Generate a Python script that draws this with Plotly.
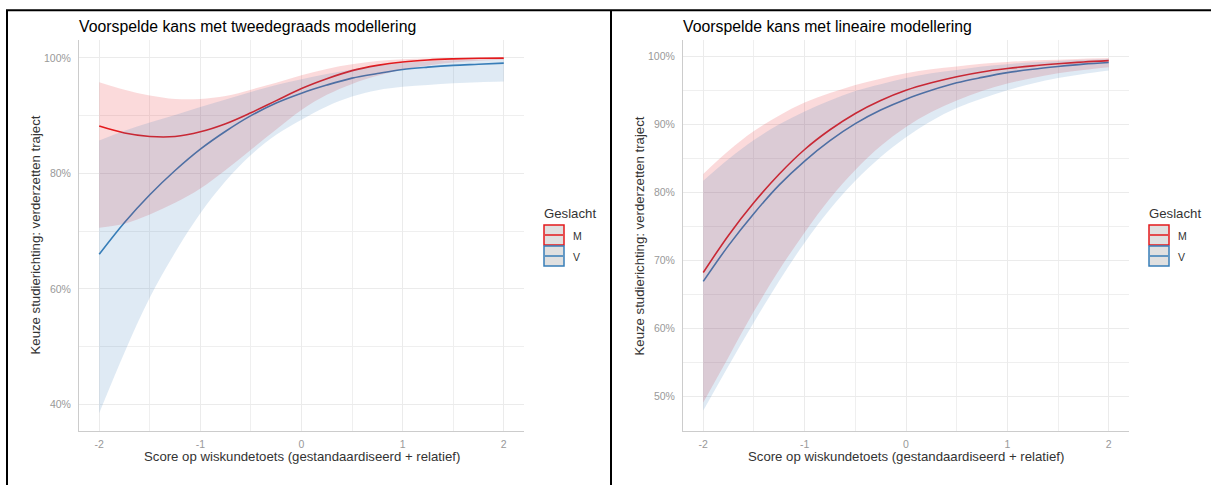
import plotly.graph_objects as go

# Standardised maths test score (x axis)
score = [-2.0, -1.75, -1.5, -1.25, -1.0, -0.75, -0.5, -0.25, 0.0,
         0.25, 0.5, 0.75, 1.0, 1.25, 1.5, 1.75, 2.0]

# Quadratic (tweedegraads) model: predicted % continuing, with 95% band
quad_m_fit = [88.2, 87.0, 86.4, 86.4, 87.2, 88.6, 90.5, 92.6, 94.7,
              96.4, 97.8, 98.7, 99.3, 99.65, 99.83, 99.93, 99.97]
quad_m_lo = [70.6, 71.3, 72.9, 74.9, 77.4, 80.6, 84.1, 87.6, 91.0,
             93.6, 95.5, 96.9, 98.0, 98.7, 99.2, 99.5, 99.74]
quad_m_hi = [95.8, 94.5, 93.5, 92.9, 92.9, 93.4, 94.5, 95.7, 97.0,
             98.1, 98.9, 99.46, 99.76, 99.9, 99.96, 99.99, 100.0]
quad_v_fit = [66.0, 71.5, 76.3, 80.5, 84.2, 87.3, 90.0, 92.2, 93.9,
              95.3, 96.5, 97.3, 98.0, 98.4, 98.7, 98.9, 99.1]
quad_v_lo = [38.5, 49.0, 58.5, 66.3, 73.1, 78.7, 83.2, 86.7, 89.3,
             91.6, 93.3, 94.4, 95.0, 95.3, 95.6, 95.8, 95.9]
quad_v_hi = [85.7, 87.4, 88.8, 90.1, 91.5, 92.8, 94.1, 95.3, 96.3,
             97.2, 98.0, 98.7, 99.15, 99.4, 99.6, 99.72, 99.81]

# Linear (lineaire) model: predicted % continuing, with 95% band
lin_m_fit = [68.2, 73.7, 78.5, 82.7, 86.3, 89.2, 91.6, 93.5, 95.0,
             96.1, 97.0, 97.7, 98.2, 98.6, 98.9, 99.16, 99.36]
lin_m_lo = [49.1, 55.8, 62.5, 68.6, 74.1, 79.1, 83.3, 86.8, 89.6,
            91.8, 93.5, 94.9, 96.0, 96.8, 97.5, 98.0, 98.4]
lin_m_hi = [82.7, 86.1, 89.0, 91.3, 93.2, 94.6, 95.8, 96.7, 97.5,
            98.1, 98.5, 98.9, 99.16, 99.4, 99.5, 99.65, 99.74]
lin_v_fit = [66.9, 72.2, 76.9, 81.1, 84.6, 87.6, 90.1, 92.1, 93.7,
             95.0, 96.1, 96.9, 97.6, 98.1, 98.5, 98.85, 99.1]
lin_v_lo = [47.9, 54.5, 60.9, 67.0, 72.6, 77.5, 81.7, 85.2, 88.1,
            90.5, 92.4, 93.8, 95.0, 96.0, 96.8, 97.4, 97.9]
lin_v_hi = [81.7, 84.9, 87.7, 90.0, 91.9, 93.5, 94.9, 95.9, 96.8,
            97.5, 98.0, 98.5, 98.85, 99.12, 99.33, 99.5, 99.62]

groups = ["M", "V"]
line_colors = {"M": "#E41A1C", "V": "#377EB8"}
band_colors = {"M": "rgba(228,26,28,0.16)", "V": "rgba(55,126,184,0.16)"}

panels = [
    dict(title="Voorspelde kans met tweedegraads modellering",
         fit={"M": quad_m_fit, "V": quad_v_fit},
         lo={"M": quad_m_lo, "V": quad_v_lo},
         hi={"M": quad_m_hi, "V": quad_v_hi},
         yticks=[40, 60, 80, 100], ystep=20, yrange=[35.4, 103.1]),
    dict(title="Voorspelde kans met lineaire modellering",
         fit={"M": lin_m_fit, "V": lin_v_fit},
         lo={"M": lin_m_lo, "V": lin_v_lo},
         hi={"M": lin_m_hi, "V": lin_v_hi},
         yticks=[50, 60, 70, 80, 90, 100], ystep=10, yrange=[44.9, 102.4]),
]

W, H = 1211, 485


def px(x):
    return x / W


def py(y):
    return 1 - y / H


# plot-area boxes in pixels: (left, right), shared top/bottom
plot_boxes = [(79, 524), (683, 1129)]
top, bottom = 40, 431
legend_left = [544, 1149]

fig = go.Figure()
shapes = []
annotations = []
font_family = "Liberation Sans, Arial, sans-serif"

for i, p in enumerate(panels):
    suffix = "" if i == 0 else str(i + 1)
    xa, ya = "x" + suffix, "y" + suffix

    # fitted curves
    for g in groups:
        fig.add_trace(go.Scatter(
            x=score, y=p["fit"][g], mode="lines", xaxis=xa, yaxis=ya,
            line=dict(color=line_colors[g], width=1.6, shape="spline"),
            showlegend=False, hoverinfo="skip"))
    # confidence ribbons
    for g in groups:
        fig.add_trace(go.Scatter(
            x=score, y=p["lo"][g], mode="lines", xaxis=xa, yaxis=ya,
            line=dict(width=0, shape="spline"), showlegend=False,
            hoverinfo="skip"))
        fig.add_trace(go.Scatter(
            x=score, y=p["hi"][g], mode="lines", xaxis=xa, yaxis=ya,
            line=dict(width=0, shape="spline"), fill="tonexty",
            fillcolor=band_colors[g], showlegend=False, hoverinfo="skip"))

    x0, x1 = plot_boxes[i]
    axis_common = dict(
        showgrid=True, gridcolor="#EBEBEB", gridwidth=1,
        zeroline=False, showline=True, linecolor="#CCCCCC", linewidth=1,
        ticks="", tickfont=dict(family=font_family, size=10.5, color="#999999"),
        fixedrange=True,
    )
    fig.update_layout(**{
        "xaxis" + suffix: dict(
            axis_common, domain=[px(x0), px(x1)], range=[-2.2, 2.2],
            tickvals=[-2, -1, 0, 1, 2], ticktext=["-2", "-1", "0", "1", "2"],
            minor=dict(showgrid=True, dtick=0.5, tick0=-2.5,
                       gridcolor="#EFEFEF", gridwidth=1),
            anchor=ya, ticklabelstandoff=3),
        "yaxis" + suffix: dict(
            axis_common, domain=[py(bottom), py(top)], range=p["yrange"],
            tickvals=p["yticks"], ticktext=[f"{v}%" for v in p["yticks"]],
            minor=dict(showgrid=True, dtick=p["ystep"] / 2, tick0=0,
                       gridcolor="#EFEFEF", gridwidth=1),
            anchor=xa, ticklabelstandoff=5),
    })

    # panel title
    annotations.append(dict(
        text=p["title"], x=px(x0 - 2), y=py(26), xref="paper", yref="paper",
        xanchor="left", yanchor="middle", showarrow=False,
        font=dict(family=font_family, size=15.8, color="#000000")))
    # axis titles
    annotations.append(dict(
        text="Score op wiskundetoets (gestandaardiseerd + relatief)",
        x=px((x0 + x1) / 2), y=py(456), xref="paper", yref="paper",
        xanchor="center", yanchor="middle", showarrow=False,
        font=dict(family=font_family, size=13.2, color="#333333")))
    annotations.append(dict(
        text="Keuze studierichting: verderzetten traject",
        x=px(x0 - 44), y=py((top + bottom) / 2), xref="paper", yref="paper",
        xanchor="center", yanchor="middle", showarrow=False, textangle=-90,
        font=dict(family=font_family, size=13.2, color="#333333")))

    # legend
    lx = legend_left[i]
    annotations.append(dict(
        text="Geslacht", x=px(lx - 2), y=py(213), xref="paper", yref="paper",
        xanchor="left", yanchor="middle", showarrow=False,
        font=dict(family=font_family, size=13.2, color="#333333")))
    for k, g in enumerate(groups):
        yt = 225 + k * 21
        shapes.append(dict(
            type="rect", xref="paper", yref="paper",
            x0=px(lx), x1=px(lx + 20), y0=py(yt), y1=py(yt + 20),
            fillcolor="#E0E0E0", line=dict(color=line_colors[g], width=1.5)))
        shapes.append(dict(
            type="line", xref="paper", yref="paper",
            x0=px(lx + 1), x1=px(lx + 19), y0=py(yt + 10), y1=py(yt + 10),
            line=dict(color=line_colors[g], width=1.5)))
        annotations.append(dict(
            text=g, x=px(lx + 27), y=py(yt + 10.5), xref="paper", yref="paper",
            xanchor="left", yanchor="middle", showarrow=False,
            font=dict(family=font_family, size=10.5, color="#333333")))

# table frame around the two panels
frame = dict(color="#000000", width=2)
shapes += [
    dict(type="line", xref="paper", yref="paper", x0=px(6), x1=1,
         y0=py(10.3), y1=py(10.3), line=frame),
    dict(type="line", xref="paper", yref="paper", x0=px(7), x1=px(7),
         y0=py(10), y1=0, line=frame),
    dict(type="line", xref="paper", yref="paper", x0=px(611), x1=px(611),
         y0=py(10), y1=0, line=frame),
]

fig.update_layout(
    width=W, height=H, margin=dict(l=0, r=0, t=0, b=0),
    paper_bgcolor="#FFFFFF", plot_bgcolor="#FFFFFF",
    shapes=shapes, annotations=annotations, showlegend=False,
    font=dict(family=font_family),
)

fig.write_html("out.html", config={"displayModeBar": False})
